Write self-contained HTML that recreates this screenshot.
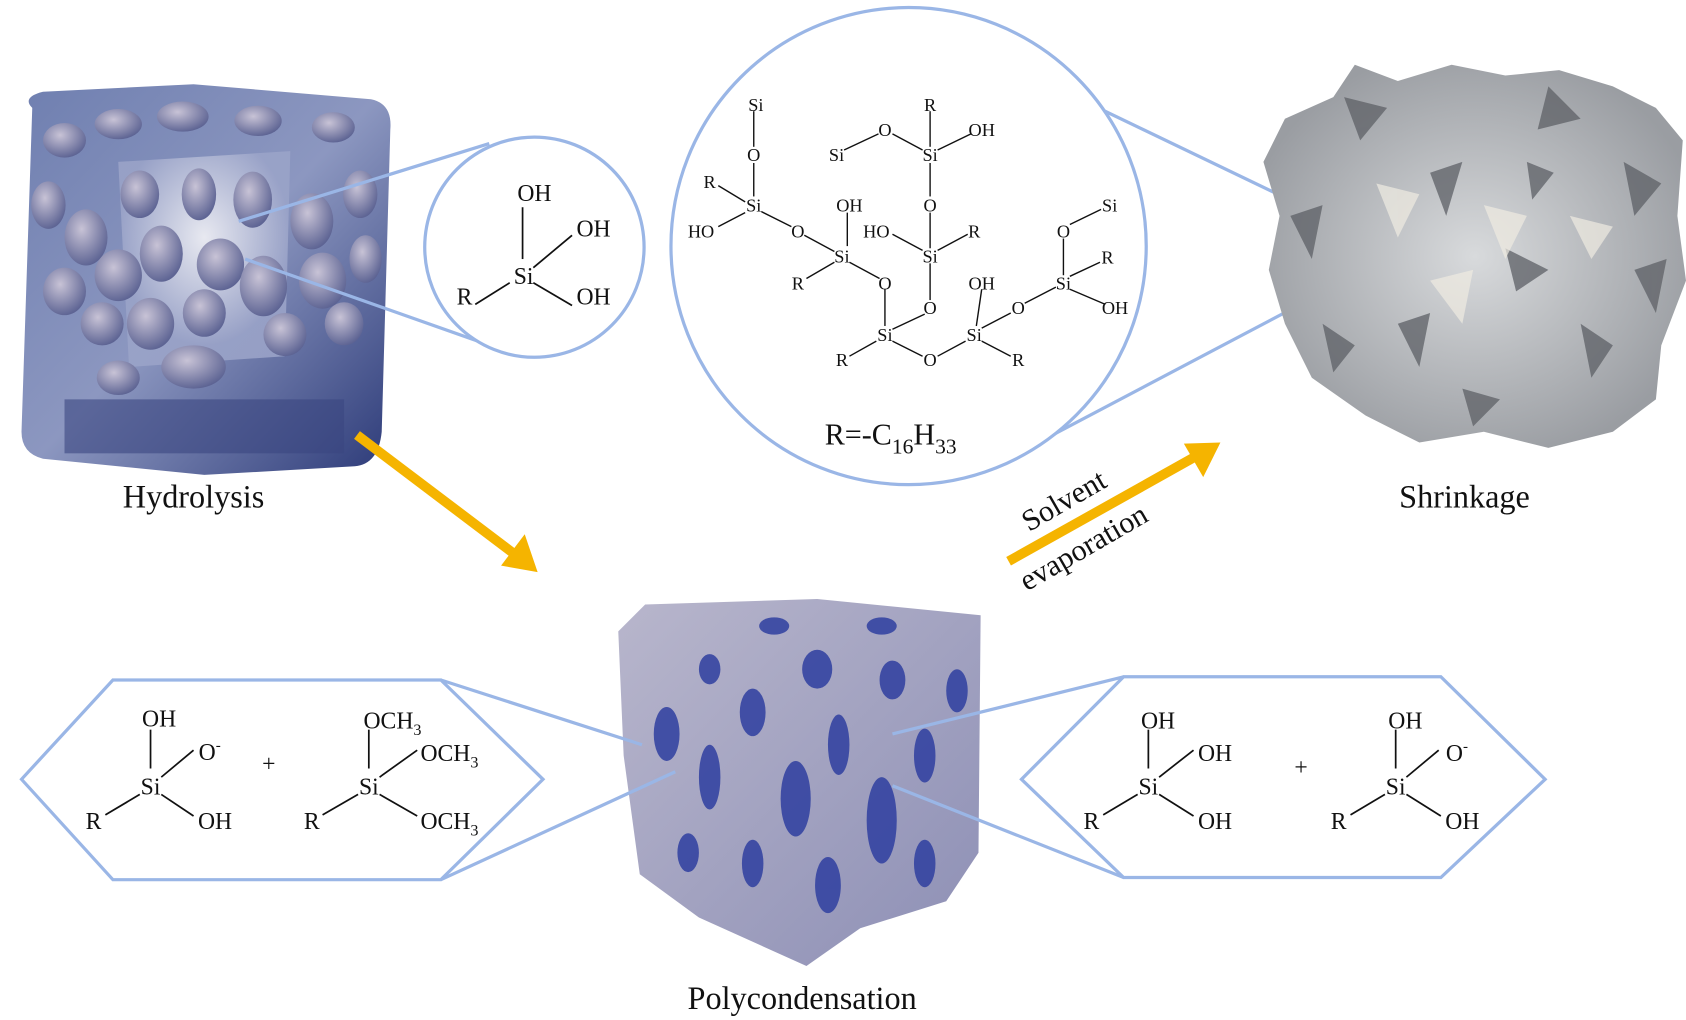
<!DOCTYPE html>
<html><head><meta charset="utf-8"><style>
html,body{margin:0;padding:0;background:#fff;}
svg{display:block;}
text{font-family:"Liberation Serif",serif;fill:#111;}
</style></head><body>
<svg width="1686" height="1020" viewBox="0 0 1568 945" preserveAspectRatio="none" xmlns="http://www.w3.org/2000/svg">
<defs>
<linearGradient id="gc" x1="0" y1="0" x2="1" y2="1">
<stop offset="0" stop-color="#6f7fb0"/><stop offset="0.5" stop-color="#8c97c0"/><stop offset="1" stop-color="#2c3a78"/>
</linearGradient>
<radialGradient id="gin" cx="0.5" cy="0.4" r="0.5"><stop offset="0" stop-color="#f2f2f6"/><stop offset="1" stop-color="#9aa3c8"/></radialGradient>
<radialGradient id="bl" cx="0.4" cy="0.35" r="0.7"><stop offset="0" stop-color="#c8c3d6"/><stop offset="1" stop-color="#585f90"/></radialGradient>
<radialGradient id="gs" cx="0.5" cy="0.5" r="0.55"><stop offset="0" stop-color="#d8dadc"/><stop offset="1" stop-color="#9a9da2"/></radialGradient>
<linearGradient id="gp" x1="0" y1="0" x2="1" y2="1"><stop offset="0" stop-color="#b8b6cc"/><stop offset="1" stop-color="#8d8fb5"/></linearGradient>
</defs>

<!-- Hydrolysis cube -->
<path d="M30,100 Q20,90 40,85 L180,78 L345,92 Q365,96 363,120 L355,400 Q352,430 330,432 L190,440 L40,425 Q20,420 20,400 Z" fill="url(#gc)"/>
<path d="M110,150 L270,140 L265,330 L120,340 Z" fill="url(#gin)" opacity="0.9"/>
<g fill="url(#bl)">
<ellipse cx="60" cy="130" rx="20" ry="16"/><ellipse cx="110" cy="115" rx="22" ry="14"/><ellipse cx="170" cy="108" rx="24" ry="14"/><ellipse cx="240" cy="112" rx="22" ry="14"/><ellipse cx="310" cy="118" rx="20" ry="14"/>
<ellipse cx="45" cy="190" rx="16" ry="22"/><ellipse cx="80" cy="220" rx="20" ry="26"/><ellipse cx="130" cy="180" rx="18" ry="22"/><ellipse cx="185" cy="180" rx="16" ry="24"/><ellipse cx="235" cy="185" rx="18" ry="26"/><ellipse cx="290" cy="205" rx="20" ry="26"/><ellipse cx="335" cy="180" rx="16" ry="22"/>
<ellipse cx="60" cy="270" rx="20" ry="22"/><ellipse cx="110" cy="255" rx="22" ry="24"/><ellipse cx="150" cy="235" rx="20" ry="26"/><ellipse cx="205" cy="245" rx="22" ry="24"/><ellipse cx="245" cy="265" rx="22" ry="28"/><ellipse cx="300" cy="260" rx="22" ry="26"/><ellipse cx="340" cy="240" rx="15" ry="22"/>
<ellipse cx="95" cy="300" rx="20" ry="20"/><ellipse cx="140" cy="300" rx="22" ry="24"/><ellipse cx="190" cy="290" rx="20" ry="22"/><ellipse cx="265" cy="310" rx="20" ry="20"/><ellipse cx="320" cy="300" rx="18" ry="20"/>
<ellipse cx="180" cy="340" rx="30" ry="20"/><ellipse cx="110" cy="350" rx="20" ry="16"/>
</g>
<rect x="60" y="370" width="260" height="50" fill="#3a4680" opacity="0.6"/>

<!-- Circle 1 -->
<line x1="222" y1="205" x2="455" y2="133" stroke="#9ab6e6" stroke-width="3"/>
<line x1="228" y1="240" x2="470" y2="325" stroke="#9ab6e6" stroke-width="3"/>
<circle cx="497" cy="229" r="102" fill="#fff" stroke="#9ab6e6" stroke-width="3"/>
<g stroke="#111" stroke-width="1.6">
<line x1="486" y1="192" x2="486" y2="240"/><line x1="496" y1="248" x2="532" y2="218"/><line x1="496" y1="262" x2="532" y2="283"/><line x1="474" y1="262" x2="442" y2="282"/>
</g>
<g font-size="22" text-anchor="middle">
<text x="497" y="186">OH</text><text x="487" y="263">Si</text><text x="552" y="219">OH</text><text x="552" y="282">OH</text><text x="432" y="282">R</text>
</g>

<!-- Big circle -->
<line x1="990" y1="85" x2="1270" y2="219" stroke="#9ab6e6" stroke-width="3"/>
<line x1="975" y1="405" x2="1280" y2="245" stroke="#9ab6e6" stroke-width="3"/>
<circle cx="845" cy="228" r="221" fill="#fff" stroke="#9ab6e6" stroke-width="3"/>
<g stroke="#111" stroke-width="1.3">
<line x1="701" y1="103" x2="701" y2="136"/><line x1="701" y1="151" x2="701" y2="182"/>
<line x1="668" y1="172" x2="693" y2="187"/><line x1="693" y1="197" x2="668" y2="210"/><line x1="708" y1="196" x2="736" y2="210"/>
<line x1="748" y1="218" x2="776" y2="233"/><line x1="788" y1="197" x2="788" y2="228"/><line x1="776" y1="243" x2="750" y2="258"/><line x1="790" y1="243" x2="818" y2="258"/>
<line x1="823" y1="268" x2="823" y2="302"/><line x1="815" y1="316" x2="790" y2="330"/><line x1="830" y1="316" x2="858" y2="330"/><line x1="872" y1="330" x2="898" y2="316"/>
<line x1="913" y1="268" x2="908" y2="302"/><line x1="913" y1="316" x2="940" y2="330"/><line x1="913" y1="304" x2="940" y2="290"/><line x1="953" y1="281" x2="982" y2="266"/>
<line x1="989" y1="221" x2="989" y2="255"/><line x1="995" y1="256" x2="1023" y2="243"/><line x1="995" y1="268" x2="1028" y2="282"/><line x1="995" y1="208" x2="1024" y2="194"/>
<line x1="865" y1="103" x2="865" y2="136"/><line x1="872" y1="139" x2="903" y2="124"/><line x1="830" y1="124" x2="858" y2="139"/><line x1="785" y1="139" x2="817" y2="124"/>
<line x1="865" y1="151" x2="865" y2="182"/><line x1="865" y1="197" x2="865" y2="230"/><line x1="830" y1="217" x2="858" y2="232"/><line x1="872" y1="232" x2="900" y2="217"/>
<line x1="865" y1="244" x2="865" y2="278"/><line x1="860" y1="291" x2="830" y2="305"/>
</g>
<g font-size="17" text-anchor="middle">
<text x="703" y="103">Si</text><text x="701" y="149">O</text><text x="701" y="196">Si</text><text x="660" y="174">R</text><text x="652" y="220">HO</text><text x="742" y="220">O</text>
<text x="783" y="243">Si</text><text x="790" y="196">OH</text><text x="742" y="268">R</text><text x="823" y="268">O</text><text x="823" y="316">Si</text><text x="783" y="339">R</text>
<text x="865" y="339">O</text><text x="906" y="316">Si</text><text x="947" y="339">R</text><text x="913" y="268">OH</text><text x="947" y="291">O</text><text x="989" y="268">Si</text>
<text x="1030" y="244">R</text><text x="1037" y="291">OH</text><text x="989" y="220">O</text><text x="1032" y="196">Si</text>
<text x="865" y="103">R</text><text x="865" y="149">Si</text><text x="913" y="126">OH</text><text x="823" y="126">O</text><text x="778" y="149">Si</text>
<text x="865" y="196">O</text><text x="865" y="243">Si</text><text x="815" y="220">HO</text><text x="906" y="220">R</text><text x="865" y="291">O</text>
</g>
<text x="767" y="412" font-size="28">R=-C<tspan font-size="20" dy="8">16</tspan><tspan dy="-8">H</tspan><tspan font-size="20" dy="8">33</tspan></text>

<!-- Shrinkage -->
<path d="M1175,150 L1195,110 L1240,90 L1260,60 L1300,75 L1350,60 L1400,70 L1450,65 L1500,80 L1540,100 L1565,130 L1560,200 L1568,260 L1545,320 L1540,370 L1500,400 L1440,415 L1380,400 L1320,410 L1270,385 L1220,350 L1195,300 L1180,250 L1190,200 Z" fill="url(#gs)"/>
<g fill="#5d6066" opacity="0.75">
<polygon points="1250,90 1290,100 1265,130"/><polygon points="1440,80 1470,110 1430,120"/><polygon points="1510,150 1545,170 1520,200"/><polygon points="1200,200 1230,190 1220,240"/>
<polygon points="1330,160 1360,150 1345,200"/><polygon points="1400,230 1440,250 1410,270"/><polygon points="1300,300 1330,290 1320,340"/><polygon points="1470,300 1500,320 1480,350"/>
<polygon points="1360,360 1395,370 1370,395"/><polygon points="1230,300 1260,320 1240,345"/><polygon points="1520,250 1550,240 1540,290"/><polygon points="1420,150 1445,160 1425,185"/>
</g>
<g fill="#f0ece2" opacity="0.7">
<polygon points="1280,170 1320,180 1300,220"/><polygon points="1380,190 1420,200 1400,240"/><polygon points="1330,260 1370,250 1360,300"/><polygon points="1460,200 1500,210 1480,240"/>
</g>

<!-- Arrows -->
<line x1="332" y1="403" x2="478" y2="513" stroke="#f5b400" stroke-width="9"/>
<polygon points="500,530 466,524 488,495" fill="#f5b400"/>
<line x1="938" y1="520" x2="1110" y2="424" stroke="#f5b400" stroke-width="9"/>
<polygon points="1135,410 1101,411 1119,442" fill="#f5b400"/>
<text font-size="28" transform="translate(957,493) rotate(-30)">Solvent</text>
<text font-size="28" transform="translate(955,548) rotate(-30)">evaporation</text>

<!-- Labels -->
<text x="180" y="470" font-size="30" text-anchor="middle">Hydrolysis</text>
<text x="1362" y="470" font-size="30" text-anchor="middle">Shrinkage</text>
<text x="746" y="935" font-size="30" text-anchor="middle">Polycondensation</text>

<!-- Polycondensation cube -->
<path d="M575,585 L600,560 L760,555 L912,570 L910,790 L880,835 L800,860 L750,895 L650,850 L595,810 L580,700 Z" fill="url(#gp)"/>
<g fill="#2f3fa0" opacity="0.85">
<ellipse cx="620" cy="680" rx="12" ry="25"/><ellipse cx="660" cy="720" rx="10" ry="30"/><ellipse cx="700" cy="660" rx="12" ry="22"/><ellipse cx="740" cy="740" rx="14" ry="35"/>
<ellipse cx="780" cy="690" rx="10" ry="28"/><ellipse cx="820" cy="760" rx="14" ry="40"/><ellipse cx="860" cy="700" rx="10" ry="25"/><ellipse cx="890" cy="640" rx="10" ry="20"/>
<ellipse cx="640" cy="790" rx="10" ry="18"/><ellipse cx="700" cy="800" rx="10" ry="22"/><ellipse cx="770" cy="820" rx="12" ry="26"/><ellipse cx="860" cy="800" rx="10" ry="22"/>
<ellipse cx="760" cy="620" rx="14" ry="18"/><ellipse cx="830" cy="630" rx="12" ry="18"/><ellipse cx="660" cy="620" rx="10" ry="14"/><ellipse cx="720" cy="580" rx="14" ry="8"/><ellipse cx="820" cy="580" rx="14" ry="8"/>
</g>

<!-- Hexagons -->
<line x1="410" y1="630" x2="597" y2="690" stroke="#9ab6e6" stroke-width="3"/>
<line x1="410" y1="815" x2="628" y2="715" stroke="#9ab6e6" stroke-width="3"/>
<line x1="1045" y1="627" x2="830" y2="680" stroke="#9ab6e6" stroke-width="3"/>
<line x1="1045" y1="813" x2="830" y2="728" stroke="#9ab6e6" stroke-width="3"/>
<polygon points="20,722 105,630 410,630 505,722 410,815 105,815" fill="#fff" stroke="#9ab6e6" stroke-width="3"/>
<polygon points="950,722 1045,627 1340,627 1437,722 1340,813 1045,813" fill="#fff" stroke="#9ab6e6" stroke-width="3"/>

<g stroke="#111" stroke-width="1.6">
<line x1="140" y1="676" x2="140" y2="712"/><line x1="150" y1="720" x2="180" y2="695"/><line x1="150" y1="736" x2="180" y2="756"/><line x1="130" y1="736" x2="98" y2="755"/>
<line x1="343" y1="676" x2="343" y2="712"/><line x1="353" y1="720" x2="388" y2="695"/><line x1="353" y1="736" x2="388" y2="756"/><line x1="333" y1="736" x2="300" y2="755"/>
<line x1="1068" y1="676" x2="1068" y2="712"/><line x1="1078" y1="720" x2="1110" y2="695"/><line x1="1078" y1="736" x2="1110" y2="756"/><line x1="1058" y1="736" x2="1026" y2="755"/>
<line x1="1298" y1="676" x2="1298" y2="712"/><line x1="1308" y1="720" x2="1338" y2="695"/><line x1="1308" y1="736" x2="1340" y2="756"/><line x1="1288" y1="736" x2="1256" y2="755"/>
</g>
<g font-size="22" text-anchor="middle">
<text x="148" y="673">OH</text><text x="195" y="704">O<tspan font-size="14" dy="-9">-</tspan></text><text x="140" y="736">Si</text><text x="87" y="768">R</text><text x="200" y="768">OH</text><text x="250" y="715">+</text>
<text x="365" y="675">OCH<tspan font-size="15" dy="6">3</tspan></text><text x="418" y="705">OCH<tspan font-size="15" dy="6">3</tspan></text><text x="343" y="736">Si</text><text x="290" y="768">R</text><text x="418" y="768">OCH<tspan font-size="15" dy="6">3</tspan></text>
<text x="1077" y="675">OH</text><text x="1130" y="705">OH</text><text x="1068" y="736">Si</text><text x="1015" y="768">R</text><text x="1130" y="768">OH</text><text x="1210" y="718">+</text>
<text x="1307" y="675">OH</text><text x="1355" y="705">O<tspan font-size="14" dy="-9">-</tspan></text><text x="1298" y="736">Si</text><text x="1245" y="768">R</text><text x="1360" y="768">OH</text>
</g>
</svg>
</body></html>
